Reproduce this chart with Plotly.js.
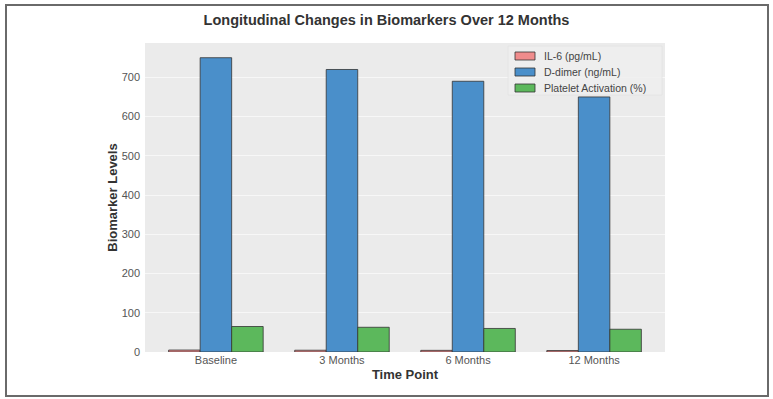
<!DOCTYPE html>
<html>
<head>
<meta charset="utf-8">
<script src="https://cdn.plot.ly/plotly-3.0.1.min.js"></script>
<style>
  html, body { margin: 0; padding: 0; background: #ffffff; }
  #wrap { position: relative; width: 773px; height: 399px; }
  #chart { position: absolute; left: 0; top: 0; width: 773px; height: 399px; }
  #frame { position: absolute; left: 5px; top: 4px; width: 760px; height: 389px;
           border: 2px solid #6a6a6a; pointer-events: none; }
</style>
</head>
<body>
<div id="wrap">
  <div id="chart"></div>
  <div id="frame"></div>
</div>
<script>
const timePoints = ["Baseline", "3 Months", "6 Months", "12 Months"];
const seriesNames = ["IL-6 (pg/mL)", "D-dimer (ng/mL)", "Platelet Activation (%)"];
const il6 = [5, 4.5, 4.2, 3.8];
const dDimer = [750, 720, 690, 650];
const platelet = [65, 63, 60, 58];
const yTicks = [0, 100, 200, 300, 400, 500, 600, 700];

const colors = ["#f08c8c", "#4a8fca", "#5cb85c"];
const seriesValues = [il6, dDimer, platelet];
const edge = { color: "#333333", width: 0.8 };

const traces = seriesValues.map((vals, i) => ({
  type: "bar", name: seriesNames[i], x: timePoints, y: vals,
  marker: { color: colors[i], line: edge }, showlegend: false
}));

// plot area in pixels: x 145..665, y 43..352
const W = 520, H = 309, L = 145, B = 352;
const px = X => (X - L) / W;
const py = Y => (B - Y) / H;

const shapes = [{
  type: "rect", xref: "paper", yref: "paper",
  x0: px(508), x1: px(662), y0: py(95), y1: py(46),
  fillcolor: "rgba(238,238,238,0.85)", line: { color: "#e2e2e2", width: 0.8 }, layer: "above"
}];
const annotations = [];
const rowY = [56, 72, 88];
seriesNames.forEach((name, i) => {
  shapes.push({
    type: "rect", xref: "paper", yref: "paper",
    x0: px(515), x1: px(535), y0: py(rowY[i] + 4), y1: py(rowY[i] - 4),
    fillcolor: colors[i], line: { color: "#333333", width: 0.8 }, layer: "above"
  });
  annotations.push({
    xref: "paper", yref: "paper", x: px(542), y: py(rowY[i]),
    xanchor: "left", yanchor: "middle", showarrow: false, text: name,
    font: { size: 10.5, color: "#444444" }
  });
});

const layout = {
  width: 773, height: 399,
  margin: { l: 145, r: 108, t: 43, b: 47, pad: 0 },
  paper_bgcolor: "rgba(0,0,0,0)",
  plot_bgcolor: "#ebebeb",
  font: { family: "Liberation Sans, Arial, sans-serif", color: "#555555", size: 11 },
  title: { text: "<b>Longitudinal Changes in Biomarkers Over 12 Months</b>",
           x: 0.5, xanchor: "center", y: 0.95, yanchor: "middle",
           font: { size: 14.5, color: "#333333" } },
  barmode: "group", bargap: 0.25, bargroupgap: 0,
  xaxis: {
    type: "category", range: [-0.5625, 3.5625],
    showgrid: false, zeroline: false, showline: false, ticks: "",
    tickfont: { size: 11, color: "#555555" },
    title: { text: "<b>Time Point</b>", font: { size: 13, color: "#333333" }, standoff: 4 }
  },
  yaxis: {
    range: [0, 787.5], tickvals: yTicks, ticktext: yTicks.map(String),
    showgrid: true, gridcolor: "#f7f7f7", gridwidth: 1,
    zeroline: false, showline: false, ticks: "",
    tickfont: { size: 11, color: "#555555" }, ticklabelstandoff: 4,
    title: { text: "<b>Biomarker Levels</b>", font: { size: 13, color: "#333333" }, standoff: 1 }
  },
  shapes: shapes,
  annotations: annotations,
  showlegend: false
};

Plotly.newPlot("chart", traces, layout, { displayModeBar: false, staticPlot: true });
</script>
</body>
</html>
